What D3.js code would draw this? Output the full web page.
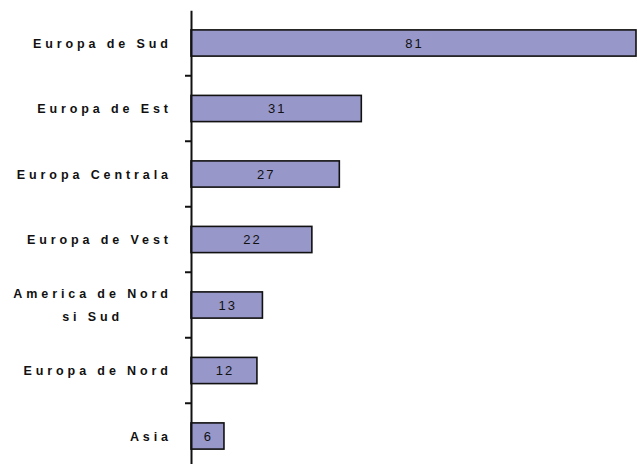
<!DOCTYPE html>
<html>
<head>
<meta charset="utf-8">
<script src="https://cdn.jsdelivr.net/npm/d3@7"></script>
<style>
  body { margin: 0; background: #fff; }
  svg { display: block; }
  text { font-family: "Liberation Sans", Arial, sans-serif; fill: #111; }
</style>
</head>
<body>
<svg id="chart" width="637" height="464"></svg>
<script>
// regions, top to bottom
var categories = ["Europa de Sud", "Europa de Est", "Europa Centrala", "Europa de Vest",
                  "America de Nord|si Sud", "Europa de Nord", "Asia"];
var values = [81, 31, 27, 22, 13, 12, 6];

var svg = d3.select("#chart");
var axisX = 191;

var x = d3.scaleLinear()
  .domain([0, 81])
  .range([axisX, 636]);

var y = d3.scaleBand()
  .domain(categories)
  .range([10.25, 468.75])
  .paddingInner(0.6)
  .paddingOuter(0.3);

// bars
svg.selectAll("rect.bar")
  .data(values)
  .enter().append("rect")
  .attr("class", "bar")
  .attr("x", x(0))
  .attr("y", function(d, i) { return y(categories[i]); })
  .attr("width", function(d) { return x(d) - x(0); })
  .attr("height", y.bandwidth())
  .attr("fill", "#9797ca")
  .attr("stroke", "#111")
  .attr("stroke-width", 1.6);

// values inside bars
svg.selectAll("text.val")
  .data(values)
  .enter().append("text")
  .attr("class", "val")
  .attr("x", function(d) { return (x(0) + x(d)) / 2 + 1; })
  .attr("y", function(d, i) { return y(categories[i]) + y.bandwidth() / 2; })
  .attr("dy", "0.36em")
  .attr("text-anchor", "middle")
  .style("font-size", "13px")
  .style("letter-spacing", "2px")
  .text(function(d) { return d; });

// axis line
var yAxis = d3.axisLeft(y).tickSize(0).tickSizeOuter(0).tickFormat("");
var g = svg.append("g")
  .attr("transform", "translate(" + axisX + ",0)")
  .call(yAxis);
g.select(".domain").attr("stroke", "#111").attr("stroke-width", 2);

// tick marks between categories
var gap = (y.step() - y.bandwidth()) / 2;
g.selectAll("line.sep")
  .data(categories.slice(1))
  .enter().append("line")
  .attr("class", "sep")
  .attr("x1", -6).attr("x2", 0)
  .attr("y1", function(d) { return y(d) - gap; })
  .attr("y2", function(d) { return y(d) - gap; })
  .attr("stroke", "#111")
  .attr("stroke-width", 2);

// category labels
var spacing = 3.9;
var labels = svg.selectAll("text.lab")
  .data(categories)
  .enter().append("text")
  .attr("class", "lab")
  .attr("text-anchor", "middle")
  .style("font-size", "12.5px")
  .style("font-weight", "bold")
  .style("letter-spacing", spacing + "px")
  .attr("y", function(d) { return y(d) + y.bandwidth() / 2; });

labels.each(function(d) {
  var lines = d.split("|");
  var t = d3.select(this);
  var first = -(lines.length - 1) * 0.9;
  lines.forEach(function(l, k) {
    t.append("tspan")
      .attr("x", 0)
      .attr("dy", k === 0 ? (first + 0.36) + "em" : "1.85em")
      .text(l);
  });
  // right-align block, centre lines within it
  var w = this.getBBox().width;
  t.selectAll("tspan").attr("x", 168 + spacing - w / 2);
});
</script>
</body>
</html>
